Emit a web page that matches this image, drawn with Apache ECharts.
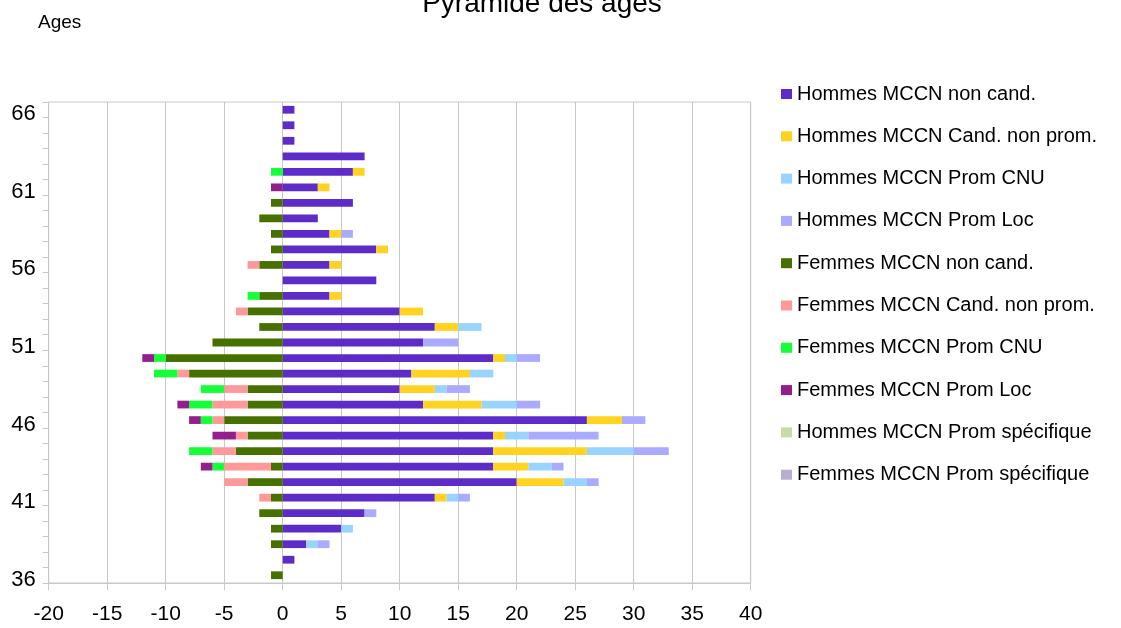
<!DOCTYPE html>
<html>
<head>
    <meta http-equiv="Content-Type" content="text/html; charset=utf-8" />
    <title>Pyramide des âges</title>
    <style>
        html, body { margin: 0; padding: 0; background: #fff; }
        #main { width: 1121px; height: 628px; }
    </style>
</head>
<body>
    <div id="main"></div>
    <script src="https://cdn.jsdelivr.net/npm/echarts@6/dist/echarts.min.js"></script>
    <script type="text/javascript">
        // ages de 36 (bas) a 66 (haut)
        var ages = ['36','37','38','39','40','41','42','43','44','45','46','47','48','49','50',
                    '51','52','53','54','55','56','57','58','59','60','61','62','63','64','65','66'];

        var hommesNonCand  = [0,1,2,5,7,13,20,18,18,18,26,12,10,11,18,12,13,10,4,8,4,8,4,3,6,3,6,7,1,1,1];
        var hommesCand     = [0,0,0,0,0,1,4,3,8,1,3,5,3,5,1,0,2,2,1,0,1,1,1,0,0,1,1,0,0,0,0];
        var hommesCNU      = [0,0,1,1,0,1,2,2,4,2,0,3,1,2,1,0,2,0,0,0,0,0,0,0,0,0,0,0,0,0,0];
        var hommesLoc      = [0,0,1,0,1,1,1,1,3,6,2,2,2,0,2,3,0,0,0,0,0,0,1,0,0,0,0,0,0,0,0];
        var femmesNonCand  = [-1,0,-1,-1,-2,-1,-3,-1,-4,-3,-5,-3,-3,-8,-10,-6,-2,-3,-2,0,-2,-1,-1,-2,-1,0,0,0,0,0,0];
        var femmesCand     = [0,0,0,0,0,-1,-2,-4,-2,-1,-1,-3,-2,-1,0,0,0,-1,0,0,-1,0,0,0,0,0,0,0,0,0,0];
        var femmesCNU      = [0,0,0,0,0,0,0,-1,-2,0,-1,-2,-2,-2,-1,0,0,0,-1,0,0,0,0,0,0,0,-1,0,0,0,0];
        var femmesLoc      = [0,0,0,0,0,0,0,-1,0,-2,-1,-1,0,0,-1,0,0,0,0,0,0,0,0,0,0,-1,0,0,0,0,0];
        var hommesSpec     = [];
        var femmesSpec     = [];

        var xTicks = { min: -20, max: 40, step: 5 };

        var series = [
            {name: 'Hommes MCCN non cand.',       color: '#5C2BC8', data: hommesNonCand},
            {name: 'Hommes MCCN Cand. non prom.', color: '#FFD320', data: hommesCand},
            {name: 'Hommes MCCN Prom CNU',        color: '#99D3FF', data: hommesCNU},
            {name: 'Hommes MCCN Prom Loc',        color: '#AAAAFF', data: hommesLoc},
            {name: 'Femmes MCCN non cand.',       color: '#467000', data: femmesNonCand},
            {name: 'Femmes MCCN Cand. non prom.', color: '#FF9999', data: femmesCand},
            {name: 'Femmes MCCN Prom CNU',        color: '#14FF38', data: femmesCNU},
            {name: 'Femmes MCCN Prom Loc',        color: '#941E8C', data: femmesLoc},
            {name: 'Hommes MCCN Prom spécifique', color: '#C5DBA8', data: hommesSpec},
            {name: 'Femmes MCCN Prom spécifique', color: '#B8AED0', data: femmesSpec}
        ];

        var font = 'Liberation Sans, Arial, sans-serif';
        var gridColor = '#c8c8c8';

        var option = {
            animation: false,
            backgroundColor: '#fff',
            title: [
                {
                    text: 'Pyramide des âges',
                    left: 537, top: -15,
                    textAlign: 'center',
                    textStyle: {fontFamily: font, fontSize: 28, fontWeight: 'normal', color: '#000'}
                },
                {
                    text: 'Ages',
                    left: 33, top: 8,
                    textStyle: {fontFamily: font, fontSize: 19, fontWeight: 'normal', color: '#000'}
                }
            ],
            legend: {
                orient: 'vertical',
                left: 781, top: 84,
                padding: 0,
                itemWidth: 11, itemHeight: 10,
                itemGap: 22.3,
                icon: 'rect',
                selectedMode: false,
                textStyle: {fontFamily: font, fontSize: 20, lineHeight: 20, color: '#000'},
                data: series.map(function (s) { return s.name; })
            },
            grid: {
                left: 48.7, right: 370.3, top: 102, bottom: 45,
                show: true, borderColor: gridColor, borderWidth: 1
            },
            xAxis: {
                type: 'value',
                min: xTicks.min, max: xTicks.max, interval: xTicks.step,
                axisLine: {show: true, lineStyle: {color: gridColor}},
                axisTick: {show: true, length: 7, lineStyle: {color: gridColor}},
                splitLine: {show: true, lineStyle: {color: gridColor}},
                axisLabel: {fontFamily: font, fontSize: 21, color: '#000', margin: 21}
            },
            yAxis: {
                type: 'category',
                data: ages,
                axisLine: {show: true, onZero: false, lineStyle: {color: gridColor}},
                axisTick: {show: true, interval: 0, length: 6, lineStyle: {color: gridColor}},
                splitLine: {show: false},
                axisLabel: {interval: 4, fontFamily: font, fontSize: 22, color: '#000', margin: 13,
                            verticalAlign: 'top', lineHeight: 9}
            },
            series: series.map(function (s) {
                return {
                    name: s.name,
                    type: 'bar',
                    stack: 'total',
                    barWidth: '50%',
                    itemStyle: {color: s.color},
                    data: s.data
                };
            })
        };

        var myChart = echarts.init(document.getElementById('main'));
        myChart.setOption(option);
    </script>
</body>
</html>
